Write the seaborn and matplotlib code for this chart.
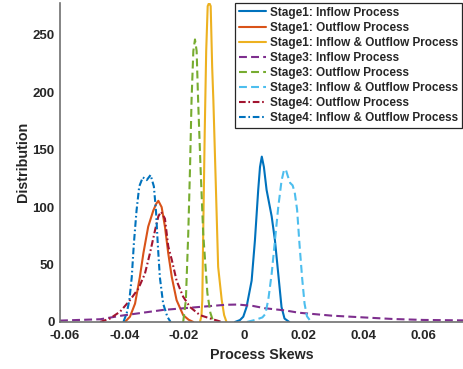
import numpy as np
import pandas as pd
import matplotlib
matplotlib.use("Agg")
import matplotlib.pyplot as plt
import seaborn as sns

# series names (legend order = draw order)
labels = ["Stage1: Inflow Process", "Stage1: Outflow Process",
          "Stage1: Inflow & Outflow Process", "Stage3: Inflow Process",
          "Stage3: Outflow Process", "Stage3: Inflow & Outflow Process",
          "Stage4: Outflow Process", "Stage4: Inflow & Outflow Process"]

# curves
s1_in_x = [-0.0030, -0.0013, -0.0002, 0.0009, 0.0026, 0.0037, 0.0048, 0.0054, 0.0060,
           0.0067, 0.0076, 0.0093, 0.0104, 0.0115, 0.0126, 0.0136, 0.0152]
s1_in_y = [0, 1.7, 4.6, 13, 36, 71, 115, 135, 144, 135, 115, 92, 71, 42, 13, 3, 0]

s1_out_x = [-0.0398, -0.0381, -0.0364, -0.0348, -0.0336, -0.0320, -0.0303, -0.0293, -0.0286,
            -0.0275, -0.0264, -0.0253, -0.0241, -0.0225, -0.0203, -0.0185, -0.0169]
s1_out_y = [0, 4.6, 16, 39, 60, 83, 97, 103, 105.5, 100, 83, 60, 39, 19, 6, 2, 0]

s1_io_x = [-0.0147, -0.0142, -0.0139, -0.0136, -0.0131, -0.0126, -0.0121, -0.0116, -0.0111,
           -0.0106, -0.0102, -0.0094, -0.0086, -0.0074, -0.0066, -0.0058]
s1_io_y = [0, 5, 19, 77, 164, 236, 275, 278, 275, 222, 193, 121, 48, 19, 6, 0]

s3_in_x = [-0.0615, -0.055, -0.048, -0.041, -0.034, -0.027, -0.020, -0.013, -0.006, -0.002,
           0.003, 0.007, 0.014, 0.0183, 0.0295, 0.040, 0.050, 0.060, 0.0733]
s3_in_y = [1.2, 1.8, 2.4, 5.5, 8.0, 10.5, 12.0, 13.5, 15.0, 15.2, 14.0, 12.0, 10.0, 8.1, 5.5,
           4.0, 2.6, 1.8, 1.4]

s3_out_x = [-0.0203, -0.0194, -0.0186, -0.0180, -0.0175, -0.0169, -0.01635, -0.0158, -0.0153,
            -0.0145, -0.0136, -0.0122, -0.0112, -0.0102]
s3_out_y = [0, 19, 77, 135, 193, 236, 246, 236, 193, 135, 77, 25, 8, 0]

s3_io_x = [0.0010, 0.0040, 0.0062, 0.0072, 0.0082, 0.0093, 0.0104, 0.0115, 0.0126, 0.0134,
           0.0140, 0.0147, 0.0155, 0.0163, 0.0170, 0.0178, 0.0186, 0.0195, 0.0203, 0.0211, 0.0225]
s3_io_y = [0, 2, 4, 7, 20, 42, 71, 100, 123, 132, 133, 127, 121, 119, 113, 98, 68, 38, 16, 5, 0]

s4_out_x = [-0.0481, -0.0448, -0.0414, -0.0381, -0.0353, -0.0331, -0.0314, -0.0297, -0.0286,
            -0.0277, -0.0264, -0.0253, -0.0241, -0.0225, -0.0203, -0.0180, -0.0147, -0.0107, -0.0073]
s4_out_y = [0, 3, 9, 19, 29, 42, 60, 80, 92, 96, 90, 66, 54, 36, 22, 13, 6, 2.6, 0]

s4_io_x = [-0.0403, -0.0392, -0.0383, -0.0375, -0.0368, -0.0359, -0.0350, -0.0338, -0.0325,
           -0.0312, -0.0301, -0.0294, -0.0288, -0.0281, -0.0270, -0.0256, -0.0245]
s4_io_y = [0, 7.5, 19, 39, 68, 97, 118, 126, 123.5, 128, 118, 97, 68, 39, 16, 4.6, 0]

xs = [s1_in_x, s1_out_x, s1_io_x, s3_in_x, s3_out_x, s3_io_x, s4_out_x, s4_io_x]
ys = [s1_in_y, s1_out_y, s1_io_y, s3_in_y, s3_out_y, s3_io_y, s4_out_y, s4_io_y]

colors = ["#0072BD", "#D95319", "#EDB120", "#7E2F8E", "#77AC30", "#4DBEEE", "#A2142F", "#0072BD"]
dash = (0, (3.8, 2.0))
dashdot = (0, (3.2, 1.3, 0.8, 1.3))
styles = ["-", "-", "-", dash, dash, dash, dashdot, dashdot]

sns.set_style("white")
plt.rcParams["font.family"] = ["Liberation Sans", "DejaVu Sans"]
plt.rcParams["font.weight"] = "bold"

fig = plt.figure(figsize=(4.64, 3.69), dpi=100)
ax = fig.add_axes([60 / 464, 47 / 369, 403 / 464, 319.3 / 369])

for x, y, name, c, ls in zip(xs, ys, labels, colors, styles):
    df = pd.DataFrame({"x": x, "y": y})
    sns.lineplot(data=df, x="x", y="y", ax=ax, color=c, linestyle=ls, linewidth=1.5,
                 label=name, estimator=None)

ax.set_xlim(-0.0615, 0.0733)
ax.set_ylim(0, 278)
ax.set_xticks(np.arange(-0.06, 0.061, 0.02))
ax.set_xticklabels(["-0.06", "-0.04", "-0.02", "0", "0.02", "0.04", "0.06"])
ax.set_yticks([0, 50, 100, 150, 200, 250])

for s in ["top", "right"]:
    ax.spines[s].set_visible(False)
for s in ["left", "bottom"]:
    ax.spines[s].set_color("#707070")
    ax.spines[s].set_linewidth(1.2)

ax.tick_params(axis="both", direction="in", length=4, width=0.8, color="#262626",
               labelsize=9.5, labelcolor="#262626")
ax.tick_params(axis="x", pad=6)
ax.tick_params(axis="y", pad=4)
for t in ax.get_xticklabels() + ax.get_yticklabels():
    t.set_fontweight("bold")

ax.set_xlabel("Process Skews", fontsize=10.3, fontweight="bold", color="#262626", labelpad=4)
ax.set_ylabel("Distribution", fontsize=10.3, fontweight="bold", color="#262626", labelpad=2)

leg = ax.legend(loc="upper right", bbox_to_anchor=(0.998, 1.0), borderaxespad=0,
                prop={"size": 8.5, "weight": "bold"}, handlelength=2.3, handletextpad=0.34,
                labelspacing=0.26, borderpad=0.33, fancybox=False, framealpha=1,
                edgecolor="#262626")
leg.get_frame().set_linewidth(0.9)

fig.savefig("out.png", dpi=100)
